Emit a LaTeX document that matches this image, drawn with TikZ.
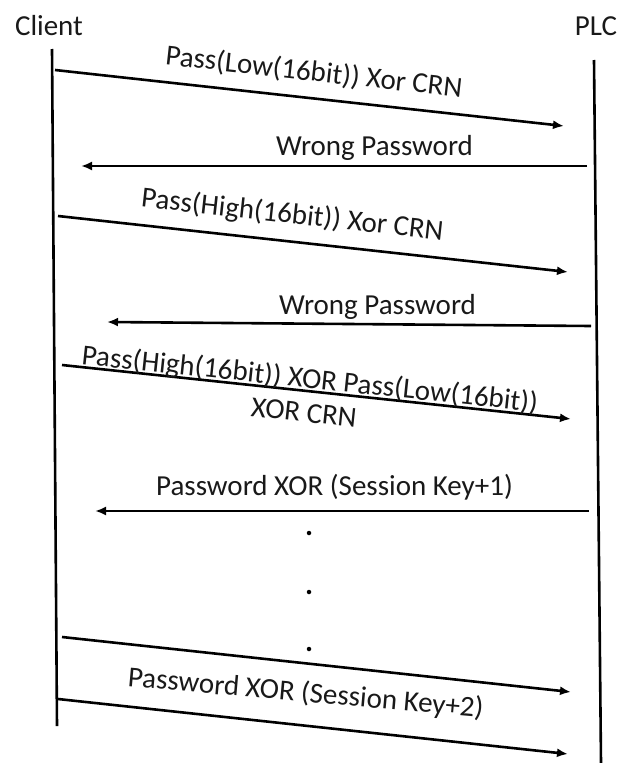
\documentclass[tikz,border=0pt]{standalone}
\usepackage{fontspec}
\setmainfont{Carlito}
\usetikzlibrary{arrows.meta}
\begin{document}
\begin{tikzpicture}[x=1pt,y=-1pt,
  life/.style={line width=2.6pt},
  msg/.style={line width=2.6pt,-{Latex[length=11pt,width=9pt]}},
  lbl/.style={font=\fontsize{29}{32}\selectfont, anchor=base, inner sep=0pt, text=black!90},
  dotnode/.style={circle,fill=black,inner sep=0pt,minimum size=4.5pt}]
\useasboundingbox (0,0) rectangle (618,763);
% participants
\node[lbl] (client) at (49,35) {Client};
\node[lbl] (plc) at (596,35) {PLC};
\coordinate (ct) at (52,49);  \coordinate (cb) at (57,726);
\coordinate (pt) at (594,60); \coordinate (pb) at (601,763);
\draw[life] (ct) -- (cb);
\draw[life] (pt) -- (pb);
% message end points
\coordinate (a1s) at (55,70);   \coordinate (a1e) at (564,126);
\coordinate (a2s) at (587,166); \coordinate (a2e) at (81,166);
\coordinate (a3s) at (58,216);  \coordinate (a3e) at (568,272);
\coordinate (a4s) at (591,326); \coordinate (a4e) at (107,322);
\coordinate (a5s) at (62,365);  \coordinate (a5e) at (571,419);
\coordinate (a6s) at (589,511); \coordinate (a6e) at (95,511);
\coordinate (a7s) at (62,637);  \coordinate (a7e) at (571,692);
\coordinate (a8s) at (58,699);  \coordinate (a8e) at (568,754);
\draw[msg] (a1s) -- (a1e);
\draw[msg] (a2s) -- (a2e);
\draw[msg] (a3s) -- (a3e);
\draw[msg] (a4s) -- (a4e);
\draw[msg] (a5s) -- (a5e);
\draw[msg] (a6s) -- (a6e);
\draw[msg] (a7s) -- (a7e);
\draw[msg] (a8s) -- (a8e);
% labels
\node[lbl,rotate=-6.3] (m1) at (313,81) {Pass(Low(16bit)) Xor CRN};
\node[lbl] (m2) at (374.5,155) {Wrong Password};
\node[lbl,rotate=-6.3] (m3) at (291.5,223.5) {Pass(High(16bit)) Xor CRN};
\node[lbl] (m4) at (377.5,314) {Wrong Password};
\node[lbl,rotate=-6] (m5a) at (309,388) {Pass(High(16bit)) XOR Pass(Low(16bit))};
\node[lbl,rotate=-6] (m5b) at (303,422) {XOR CRN};
\node[lbl] (m6) at (334.5,495) {Password XOR (Session Key+1)};
\node[lbl,rotate=-5] (m7) at (305,702) {Password XOR (Session Key+2)};
% ellipsis dots
\node[dotnode] (d1) at (309,533) {};
\node[dotnode] (d2) at (309,592) {};
\node[dotnode] (d3) at (309,649) {};
\end{tikzpicture}
\end{document}
